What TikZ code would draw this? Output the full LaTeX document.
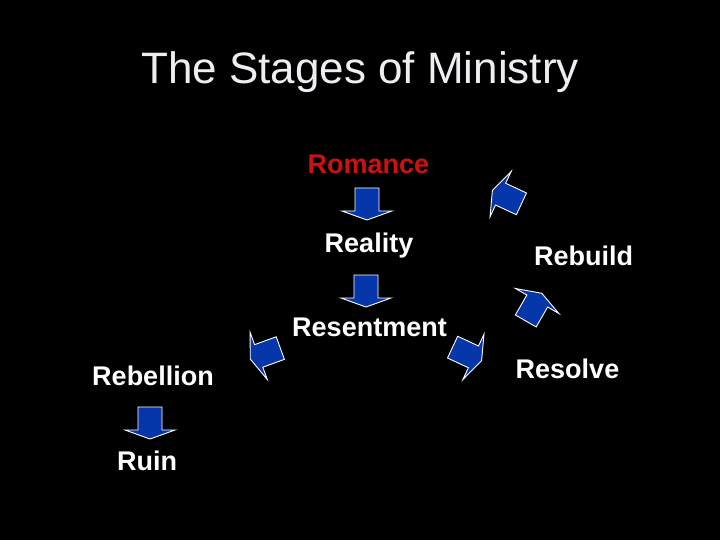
\documentclass[tikz,border=0pt]{standalone}
\usepackage{fontspec}
\setmainfont{Liberation Sans}
\definecolor{slideblue}{RGB}{5,55,170}
\definecolor{romred}{RGB}{204,17,17}
\definecolor{titlegray}{RGB}{236,238,242}

\begin{document}
\begin{tikzpicture}[
x = 1pt, y = -1pt,
 title/.style = {anchor=base, inner sep=0pt, text=titlegray,
                 font=\fontsize{44}{50}\selectfont},
 stage/.style = {anchor=base, inner sep=0pt, text=white,
                 font=\fontsize{27}{32}\selectfont\bfseries},
 blockarrow/.pic = {\draw[white, line width=0.9pt, fill=slideblue, line join=miter]
                 (-11.5,-12) -- (11.5,-12) -- (11.5,-25) -- (20.5,0)
                 -- (11.5,25) -- (11.5,12) -- (-11.5,12) -- cycle;},
                        ]
\fill[black] (0,0) rectangle (720,540);
\node[title] (T) at (360,84) {The Stages of Ministry};
% stages
\node[stage, text=romred] (rom)  at (368.5,174)   {Romance};
\node[stage]              (real) at (369,252)     {Reality};
\node[stage]              (rest) at (369.5,336.5) {Resentment};
\node[stage]              (rebl) at (153,385)     {Rebellion};
\node[stage]              (ruin) at (147,470)     {Ruin};
\node[stage]              (rebu) at (583.5,265)   {Rebuild};
\node[stage]              (reso) at (567.5,378)   {Resolve};
% block arrows: centre and direction
\foreach \p/\a [count=\i] in {{(367,199.5)}/-90, {(366,286.5)}/-90, {(150,418.5)}/-90,
                              {(511,199)}/155, {(531.5,311)}/60,
                              {(269.5,352)}/200, {(463,352)}/-25}
    \pic (arr\i) [rotate=\a] at \p {blockarrow};
\end{tikzpicture}
\end{document}
